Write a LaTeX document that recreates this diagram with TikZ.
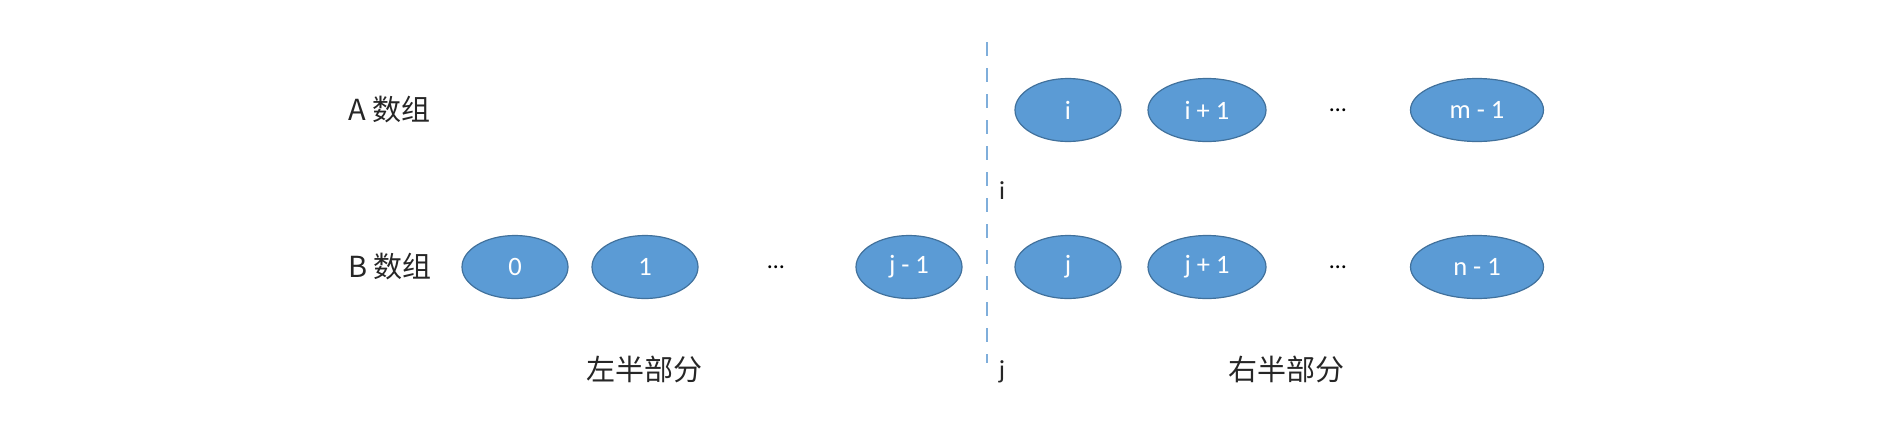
\documentclass[tikz,border=0pt]{standalone}
\usepackage{fontspec}
\setmainfont{Carlito}
\newfontfamily\cjk{Noto Sans CJK SC}
\usetikzlibrary{shapes.geometric}
\definecolor{fillblue}{HTML}{5B9BD5}
\definecolor{edgeblue}{HTML}{41719C}
\definecolor{dashblue}{HTML}{7FAEDB}
\begin{document}
\begin{tikzpicture}[x=1pt,y=-1pt,
  elem/.style={ellipse,draw=edgeblue,line width=1.2pt,fill=fillblue,text=white,
    minimum height=63pt,inner sep=0pt,font=\fontsize{26.5}{30}\selectfont},
  small/.style={elem,minimum width=106pt},
  mid/.style={elem,minimum width=118pt},
  big/.style={elem,minimum width=133pt},
  lbl/.style={font=\fontsize{29}{34}\selectfont\cjk,text=black!85,inner sep=0pt},
  dots/.style={font=\fontsize{24}{28}\selectfont,inner sep=0pt},
  letter/.style={font=\fontsize{26}{30}\selectfont,text=black!85,inner sep=0pt}]
\useasboundingbox (0,0) rectangle (1898,426);
% dashed divider
\coordinate (dtop) at (987,42);
\coordinate (dbot) at (987,363);
\draw[dashblue,line width=1.5pt,dash pattern=on 14pt off 12pt] (dtop) -- (dbot);
% row labels
\node[lbl,anchor=west] (la) at (348,110) {A 数组};
\node[lbl,anchor=west] (lb) at (348,267) {B 数组};
% A array
\node[small] (a0) at (1068,110) {i};
\node[mid] (a1) at (1207,110) {i + 1};
\node[dots] (ad) at (1338,110) {\dots};
\node[big] (a2) at (1477,110) {m - 1};
% B array
\node[small] (b0) at (515,267) {0};
\node[small] (b1) at (645,267) {1};
\node[dots] (bd1) at (776,267) {\dots};
\node[small] (b2) at (909,267) {j - 1};
\node[small] (b3) at (1068,267) {j};
\node[mid] (b4) at (1207,267) {j + 1};
\node[dots] (bd2) at (1338,267) {\dots};
\node[big] (b5) at (1477,267) {n - 1};
% markers
\node[letter] (li) at (1002,191) {i};
\node[letter] (lj) at (1002,372) {j};
% halves
\node[lbl] (left) at (644,369) {左半部分};
\node[lbl] (right) at (1286,369) {右半部分};
\end{tikzpicture}
\end{document}
